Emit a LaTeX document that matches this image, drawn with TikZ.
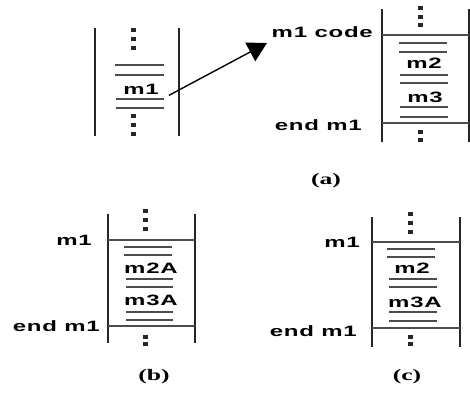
\documentclass[tikz,border=0pt]{standalone}
\usepackage{fontspec}
\usetikzlibrary{arrows.meta}
\newfontfamily\lblfont[FakeStretch=1.6,LetterSpace=5]{Liberation Sans}
\newfontfamily\capfont[FakeStretch=1.6]{Liberation Serif}
\begin{document}
\begin{tikzpicture}[x=1pt,y=-1pt,
  wall/.style={line width=1.6pt,black!85},
  rule/.style={line width=1.1pt,black!70},
  lbl/.style={inner sep=0pt,font=\lblfont\bfseries\fontsize{15}{17}\selectfont},
  caption/.style={inner sep=0pt,font=\capfont\bfseries\fontsize{16}{18}\selectfont},
  link/.style={line width=1.4pt,-{Triangle[length=19pt,width=21pt]}}]
\useasboundingbox (0,0) rectangle (470,400);
% dot column: list of y centres at a given x
\newcommand\dotcol[2]{\foreach \yy in {#2} \fill[black!85] (#1-2.5,\yy-2) rectangle ++(5,4);}

% ---- (a) left: calling routine ----
\draw[wall] (95,28) -- (95,136);
\draw[wall] (179,28) -- (179,136);
\dotcol{133}{30,39,48}
\draw[rule] (115,65) -- (164,65);
\draw[rule] (115,75) -- (164,75);
\node[lbl] (m1a) at (141,89) {m1};
\draw[rule] (116,99) -- (164,99);
\draw[rule] (116,108) -- (164,108);
\dotcol{133}{116,125,134}

% ---- (a) right: body of m1 ----
\draw[wall] (382,9) -- (382,142);
\draw[wall] (468.8,9) -- (468.8,142);
\draw[rule] (382,35) -- (469,35);
\draw[rule] (382,123) -- (469,123);
\dotcol{420}{8,17,25}
\node[lbl,anchor=east] (codea) at (373,32) {m1 code};
\node[lbl,anchor=east] (enda) at (362,125) {end m1};
\draw[rule] (399,43) -- (447,43);
\draw[rule] (399,52) -- (447,52);
\node[lbl] (m2a) at (424,63) {m2};
\draw[rule] (400,75) -- (448,75);
\draw[rule] (400,83) -- (448,83);
\node[lbl] (m3a) at (425,97) {m3};
\draw[rule] (400,107) -- (448,107);
\draw[rule] (400,117) -- (448,117);
\dotcol{420}{132,140}
\coordinate (tipa) at (267,43);
\draw[link] ([xshift=10pt,yshift=-1pt]m1a.south east) -- (tipa);
\node[caption] (capa) at (326,181) {(a)};

% ---- (b) ----
\draw[wall] (108,214) -- (108,343);
\draw[wall] (195,214) -- (195,343);
\draw[rule] (108,240) -- (195,240);
\draw[rule] (108,326) -- (195,326);
\dotcol{145}{211,220,229}
\node[lbl,anchor=east] (m1b) at (92,240) {m1};
\node[lbl,anchor=east] (endb) at (100,326) {end m1};
\draw[rule] (124,247) -- (172,247);
\draw[rule] (124,255) -- (172,255);
\node[lbl] (m2b) at (151,268) {m2A};
\draw[rule] (126,279) -- (173,279);
\draw[rule] (126,287) -- (173,287);
\node[lbl] (m3b) at (151,300) {m3A};
\draw[rule] (126,312) -- (173,312);
\draw[rule] (126,320) -- (173,320);
\dotcol{145}{337,344}
\node[caption] (capb) at (154,377) {(b)};

% ---- (c) ----
\draw[wall] (372,217) -- (372,347);
\draw[wall] (460,217) -- (460,347);
\draw[rule] (372,242) -- (460,242);
\draw[rule] (372,328) -- (460,328);
\dotcol{410}{214,223,232}
\node[lbl,anchor=east] (m1c) at (360,242) {m1};
\node[lbl,anchor=east] (endc) at (357,331) {end m1};
\draw[rule] (387,249) -- (435,249);
\draw[rule] (387,257) -- (435,257);
\node[lbl] (m2c) at (412,268) {m2};
\draw[rule] (389,279) -- (437,279);
\draw[rule] (389,287) -- (437,287);
\node[lbl] (m3c) at (415,302) {m3A};
\draw[rule] (389,312) -- (437,312);
\draw[rule] (389,321) -- (437,321);
\dotcol{410}{337,344}
\node[caption] (capc) at (407,377) {(c)};
\end{tikzpicture}
\end{document}
